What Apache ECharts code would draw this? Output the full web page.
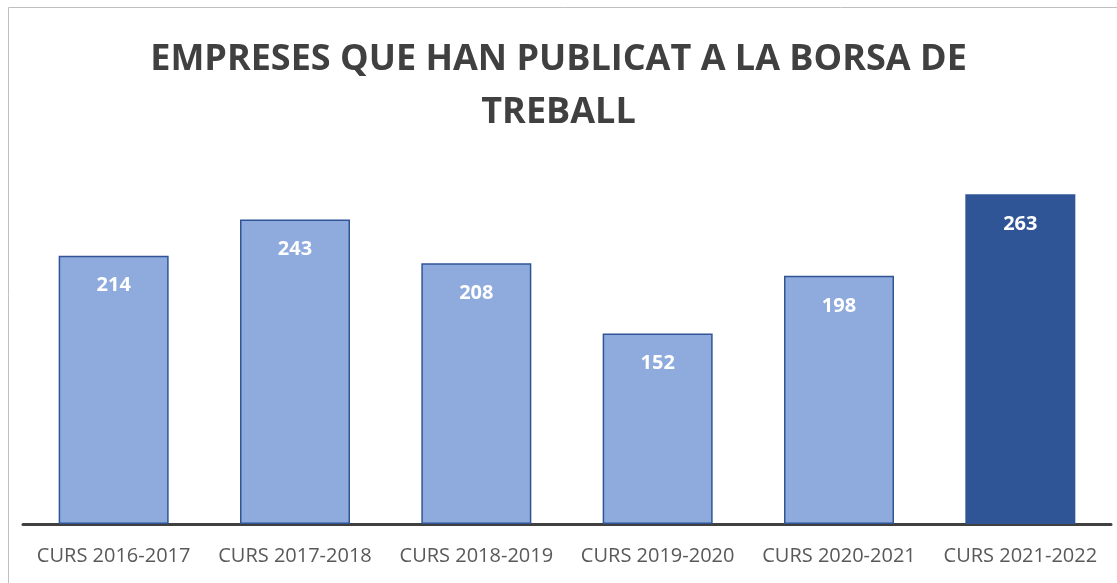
<!DOCTYPE html>
<html>
<head>
<meta charset="utf-8">
<script src="https://cdn.jsdelivr.net/npm/echarts@6/dist/echarts.min.js"></script>
<style>
  html, body { margin: 0; padding: 0; background: #fff; }
  #myChart { width: 1117px; height: 583px; }
</style>
</head>
<body>
<div id="myChart"></div>
<script>
// dades del gràfic
var cursos = ["CURS 2016-2017", "CURS 2017-2018", "CURS 2018-2019", "CURS 2019-2020", "CURS 2020-2021", "CURS 2021-2022"];
var empreses = [214, 243, 208, 152, 198, 263];
var destacat = "CURS 2021-2022";

var myChart = echarts.init(document.getElementById("myChart"));

var options = {
  animation: false,
  backgroundColor: "#fff",
  title: {
    text: "EMPRESES QUE HAN PUBLICAT A LA BORSA DE\nTREBALL",
    left: "center",
    top: 28,
    textStyle: {
      fontFamily: "Open Sans",
      fontWeight: "bold",
      fontSize: 36,
      lineHeight: 53,
      color: "#404040",
    },
  },
  graphic: [
    {
      type: "rect",
      silent: true,
      shape: { x: 8.5, y: 7.5, width: 1200, height: 700 },
      style: { fill: "none", stroke: "#bfbfbf", lineWidth: 1 },
    },
  ],
  grid: {
    left: 23,
    right: 6,
    top: 148,
    bottom: 59,
  },
  xAxis: {
    type: "category",
    data: cursos,
    axisTick: { show: false },
    axisLine: { lineStyle: { color: "#404040", width: 3 } },
    axisLabel: {
      fontFamily: "Open Sans",
      fontSize: 20,
      color: "#595959",
      margin: 22,
      interval: 0,
    },
  },
  yAxis: {
    type: "value",
    min: 0,
    max: 300,
    show: false,
    splitLine: { show: false },
  },
  series: [
    {
      type: "bar",
      barWidth: 110,
      data: empreses.map(function (v, i) {
        var fosc = cursos[i] === destacat;
        return {
          value: v,
          itemStyle: {
            color: fosc ? "#2F5597" : "#8FAADC",
            borderColor: "#2F5597",
            borderWidth: fosc ? 0 : 1.5,
          },
        };
      }),
      label: {
        show: true,
        position: "insideTop",
        distance: 20,
        fontFamily: "Open Sans",
        fontWeight: "bold",
        fontSize: 20,
        color: "#fff",
      },
    },
  ],
};

myChart.setOption(options, true);
</script>
</body>
</html>
